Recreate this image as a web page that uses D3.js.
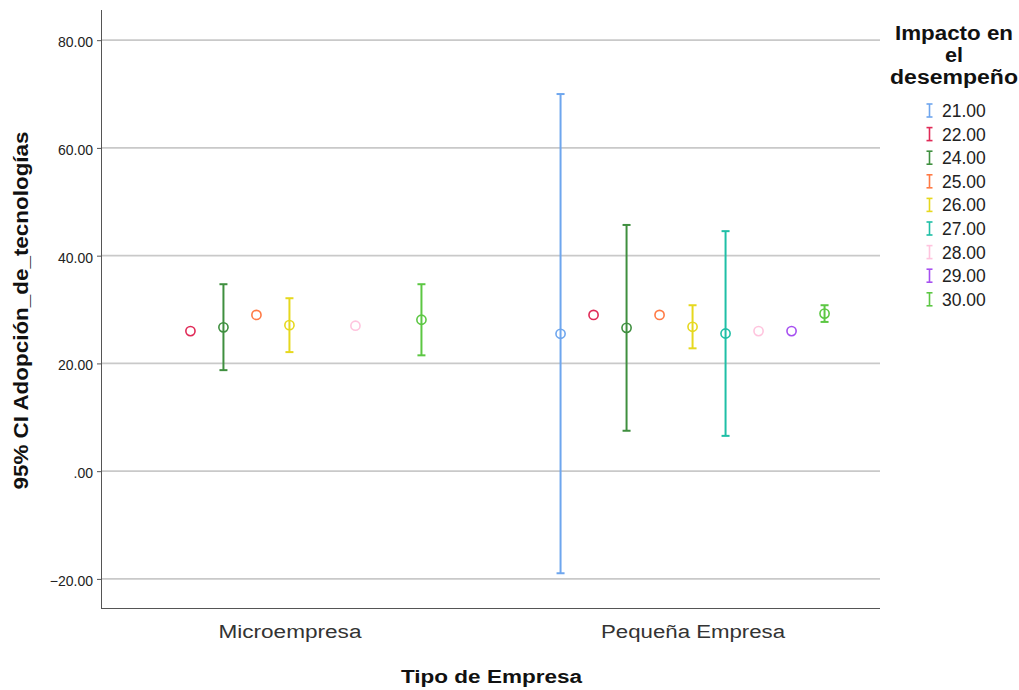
<!DOCTYPE html>
<html>
<head>
<meta charset="utf-8">
<script src="https://cdn.jsdelivr.net/npm/d3@7"></script>
<style>
  html, body { margin: 0; padding: 0; background: #fff; }
  svg { display: block; font-family: "Liberation Sans", Arial, sans-serif; }
</style>
</head>
<body>
<svg id="chart" width="1019" height="690"></svg>
<script>
// Categories on the x axis
const empresas = ["Microempresa", "Pequeña Empresa"];
// Groups ("Impacto en el desempeño")
const impactos = ["21.00", "22.00", "24.00", "25.00", "26.00", "27.00", "28.00", "29.00", "30.00"];
const colores = ["#6ea6ee", "#e02a57", "#3f8f3f", "#ff7a45", "#e6d81e", "#1fbfa6", "#ffc4de", "#a64ff0", "#5cc743"];

// Mean and 95% CI per group; null = group absent, lo/hi null = single case (no interval)
const microMedia = [null, 26.0, 26.7, 29.0, 27.1, null, 27.0, null, 28.1];
const microInf   = [null, null, 18.75, null, 22.1, null, null, null, 21.5];
const microSup   = [null, null, 34.7, null, 32.1, null, null, null, 34.7];

const pequeMedia = [25.5, 29.0, 26.6, 29.0, 26.8, 25.55, 26.0, 26.0, 29.25];
const pequeInf   = [-18.95, null, 7.5, null, 22.8, 6.55, null, null, 27.7];
const pequeSup   = [70.0, null, 45.7, null, 30.8, 44.55, null, null, 30.8];

const yTicks = [-20, 0, 20, 40, 60, 80];

const series = [
  { empresa: empresas[0], media: microMedia, inf: microInf, sup: microSup },
  { empresa: empresas[1], media: pequeMedia, inf: pequeInf, sup: pequeSup }
];

const svg = d3.select("#chart");
const m = { left: 102, right: 880, top: 10, bottom: 608 };

const y = d3.scaleLinear().domain([-25.4, 85.6]).range([m.bottom, m.top]);
const x = d3.scalePoint().domain(empresas).range([m.left, m.right]).padding(0.465);
const xi = d3.scalePoint().domain(impactos).range([-132, 132]);

// Horizontal grid lines
svg.append("g").selectAll("line").data(yTicks).join("line")
  .attr("x1", m.left).attr("x2", m.right)
  .attr("y1", d => y(d)).attr("y2", d => y(d))
  .attr("stroke", "#c9c9c9").attr("stroke-width", 1.6);

// Y axis
const yAxis = d3.axisLeft(y).tickValues(yTicks).tickSize(5)
  .tickFormat(d => d === 0 ? ".00" : d3.format(".2f")(d));
const gy = svg.append("g").attr("transform", `translate(${m.left},0)`).call(yAxis);
gy.select(".domain").attr("d", `M-0.5,${m.top}V${m.bottom}`).attr("stroke", "#555");
gy.selectAll(".tick line").attr("stroke", "#555");
gy.selectAll(".tick text").attr("font-size", 14).attr("fill", "#222")
  .attr("font-family", "Liberation Sans, Arial, sans-serif")
  .attr("x", -9).attr("dy", 0).attr("y", 6.5);

// X axis
const xLabelW = { "Microempresa": 143, "Pequeña Empresa": 184 };
const gx = svg.append("g").attr("transform", `translate(0,${m.bottom})`)
  .call(d3.axisBottom(x).tickSize(0));
gx.select(".domain").attr("d", `M${m.left - 1},0.5H${m.right}`).attr("stroke", "#555");
gx.selectAll(".tick text").attr("font-size", 18).attr("fill", "#333")
  .attr("font-family", "Liberation Sans, Arial, sans-serif")
  .attr("dy", 0).attr("y", 30)
  .attr("textLength", d => xLabelW[d]).attr("lengthAdjust", "spacingAndGlyphs");

// Axis titles
svg.append("text").attr("x", 491.5).attr("y", 683)
  .attr("text-anchor", "middle").attr("font-size", 18).attr("font-weight", "bold")
  .attr("fill", "#111").attr("textLength", 181).attr("lengthAdjust", "spacingAndGlyphs")
  .text("Tipo de Empresa");
svg.append("text").attr("transform", `translate(28,310.5) rotate(-90)`)
  .attr("text-anchor", "middle").attr("font-size", 21).attr("font-weight", "bold")
  .attr("fill", "#111").attr("textLength", 358).attr("lengthAdjust", "spacingAndGlyphs")
  .text("95% CI Adopción_de_tecnologías");

// Error bars and means
const capW = 4;
series.forEach(s => {
  const g = svg.append("g");
  impactos.forEach((imp, i) => {
    if (s.media[i] == null) return;
    const cx = x(s.empresa) + xi(imp);
    const col = colores[i];
    if (s.inf[i] != null) {
      g.append("line").attr("x1", cx).attr("x2", cx)
        .attr("y1", y(s.inf[i])).attr("y2", y(s.sup[i]))
        .attr("stroke", col).attr("stroke-width", 2);
      [s.inf[i], s.sup[i]].forEach(v => {
        g.append("line").attr("x1", cx - capW).attr("x2", cx + capW)
          .attr("y1", y(v)).attr("y2", y(v))
          .attr("stroke", col).attr("stroke-width", 2);
      });
    }
    g.append("circle").attr("cx", cx).attr("cy", y(s.media[i])).attr("r", 4.6)
      .attr("fill", "none").attr("stroke", col).attr("stroke-width", 1.6);
  });
});

// Legend
const lg = svg.append("g");
const titleLines = [["Impacto en", 118], ["el", 18], ["desempeño", 128]];
titleLines.forEach(([t, w], i) => {
  lg.append("text").attr("x", 954).attr("y", 40 + i * 22)
    .attr("text-anchor", "middle").attr("font-size", 19.5).attr("font-weight", "bold")
    .attr("fill", "#111").attr("textLength", w).attr("lengthAdjust", "spacingAndGlyphs")
    .text(t);
});
impactos.forEach((imp, i) => {
  const base = 117 + i * 23.6;
  const cy = base - 6.5;
  const ix = 929.5;
  const gi = lg.append("g").attr("stroke", colores[i]).attr("stroke-width", 1.6);
  gi.append("line").attr("x1", ix).attr("x2", ix).attr("y1", cy - 6.5).attr("y2", cy + 6.5);
  gi.append("line").attr("x1", ix - 3).attr("x2", ix + 3).attr("y1", cy - 6.5).attr("y2", cy - 6.5);
  gi.append("line").attr("x1", ix - 3).attr("x2", ix + 3).attr("y1", cy + 6.5).attr("y2", cy + 6.5);
  lg.append("text").attr("x", 942).attr("y", base)
    .attr("font-size", 17.5).attr("fill", "#222").text(imp);
});
</script>
</body>
</html>
